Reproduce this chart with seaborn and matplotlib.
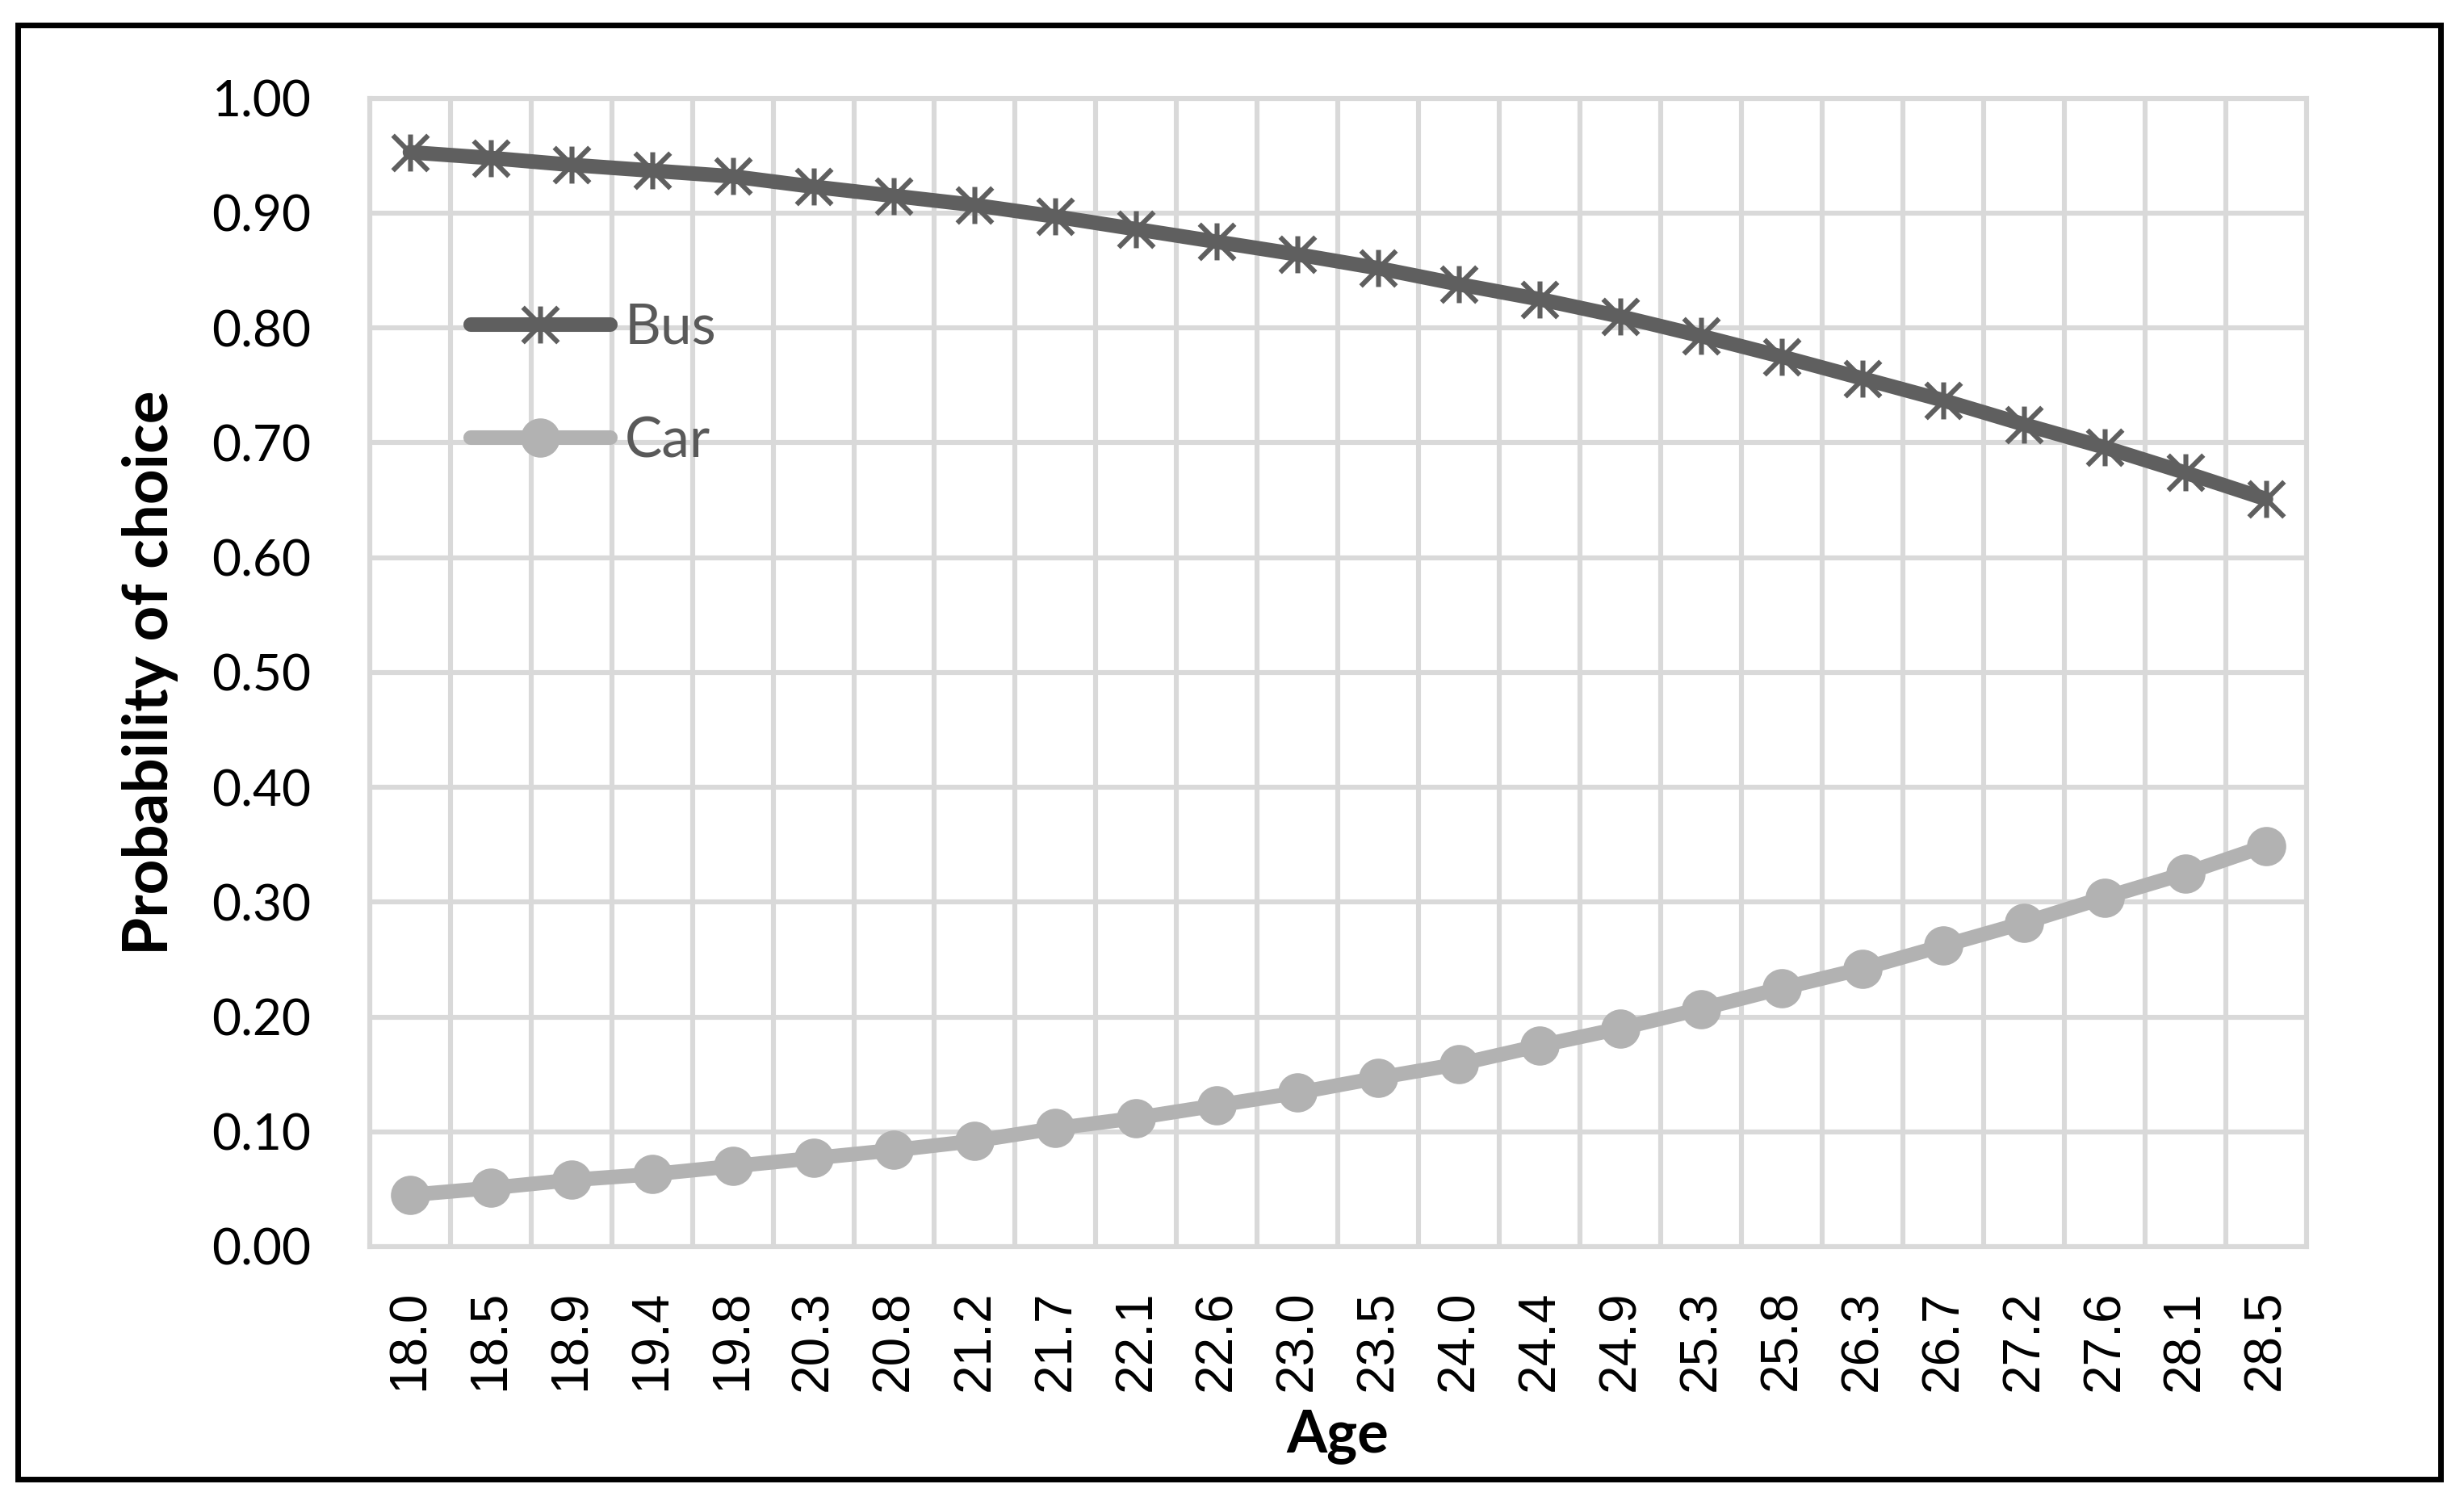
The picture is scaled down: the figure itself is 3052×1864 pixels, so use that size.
import matplotlib
matplotlib.use("Agg")
import matplotlib.pyplot as plt
import seaborn as sns
import numpy as np
import pandas as pd
from matplotlib.path import Path
from matplotlib.patches import Rectangle

# values
ages = ["18.0", "18.5", "18.9", "19.4", "19.8", "20.3", "20.8", "21.2", "21.7", "22.1",
        "22.6", "23.0", "23.5", "24.0", "24.4", "24.9", "25.3", "25.8", "26.3", "26.7",
        "27.2", "27.6", "28.1", "28.5"]
bus = [0.953, 0.948, 0.942, 0.937, 0.932, 0.923, 0.915, 0.907, 0.897, 0.886,
       0.875, 0.864, 0.852, 0.838, 0.825, 0.810, 0.793, 0.775, 0.756, 0.737,
       0.716, 0.696, 0.674, 0.651]
car = [0.045, 0.051, 0.058, 0.063, 0.070, 0.077, 0.084, 0.092, 0.103, 0.112,
       0.123, 0.134, 0.147, 0.159, 0.175, 0.190, 0.207, 0.225, 0.242, 0.262,
       0.282, 0.304, 0.325, 0.349]
y_ticks = [0.0, 0.1, 0.2, 0.3, 0.4, 0.5, 0.6, 0.7, 0.8, 0.9, 1.0]

BUS_C = "#5f5f5f"
CAR_C = "#b2b2b2"
GRID_C = "#d9d9d9"

sns.set_theme(style="white")
plt.rcParams['font.family'] = ['Lato', 'DejaVu Sans']

df = pd.DataFrame({"pos": np.arange(len(ages)), "Bus": bus, "Car": car})

# Excel style star marker: X plus vertical bar
star = Path([(-1, -1), (1, 1), (-1, 1), (1, -1), (0, -1.05), (0, 1.05)],
            [Path.MOVETO, Path.LINETO, Path.MOVETO, Path.LINETO, Path.MOVETO, Path.LINETO])

fig = plt.figure(figsize=(15.26, 9.32), dpi=200)
ax = fig.add_axes([0.150, 0.1717, 0.786, 0.763])
ax.set_axisbelow(True)

sns.lineplot(data=df, x="pos", y="Bus", ax=ax, color=BUS_C, lw=6.5, label="Bus",
             marker=star, markersize=16.5, markeredgewidth=2.2, markeredgecolor=BUS_C,
             markerfacecolor="none", solid_capstyle="round")
sns.lineplot(data=df, x="pos", y="Car", ax=ax, color=CAR_C, lw=6.5, label="Car",
             marker="o", markersize=17.5, markeredgewidth=0, markeredgecolor=CAR_C,
             markerfacecolor=CAR_C, solid_capstyle="round")

ax.set_xlim(-0.5, len(ages) - 0.5)
ax.set_ylim(0, 1)
ax.set_yticks(y_ticks)
ax.set_yticklabels([f"{v:.2f}" for v in y_ticks], fontsize=22.4, color="black")
ax.set_xticks(np.arange(len(ages)))
ax.set_xticklabels(ages, rotation=90, fontsize=23, family=["Liberation Sans", "DejaVu Sans"],
                   color="black")
ax.set_xticks(np.arange(-0.5, len(ages)), minor=True)

ax.yaxis.grid(True, color=GRID_C, lw=2.2)
ax.xaxis.grid(True, which="minor", color=GRID_C, lw=2.2)
ax.xaxis.grid(False, which="major")
ax.tick_params(axis="both", which="both", length=0)
ax.tick_params(axis="y", pad=26)
ax.tick_params(axis="x", pad=19.5)
for s in ax.spines.values():
    s.set_color(GRID_C)
    s.set_linewidth(2.2)

ax.set_xlabel("Age", fontsize=26, fontweight="bold", color="black")
ax.set_ylabel("Probability of choice", fontsize=27.5, fontweight="bold", color="black")
ax.xaxis.label.set_va("center")
ax.yaxis.label.set_va("center")
ax.xaxis.set_label_coords(0.5, -0.165)
ax.yaxis.set_label_coords(-0.1134, 0.5)

ax.legend(loc="upper left", bbox_to_anchor=(0.052, 0.822), frameon=False, fontsize=25,
          labelcolor="#595959", handlelength=2.5, handletextpad=0.25, labelspacing=1.12,
          borderpad=0, borderaxespad=0)

frame = Rectangle((0.0072, 0.0172), 0.9833, 0.9662, transform=fig.transFigure,
                  fill=False, edgecolor="black", lw=2.5)
fig.patches.append(frame)

fig.savefig("out.png", dpi=200)
